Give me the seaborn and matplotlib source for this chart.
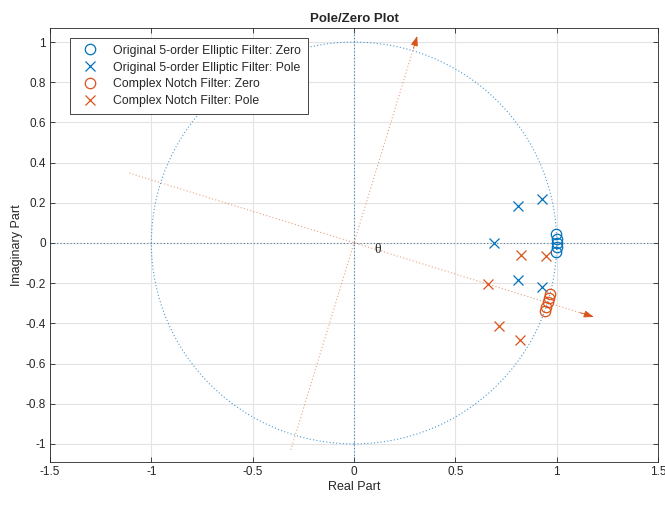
import numpy as np
import pandas as pd
import matplotlib
matplotlib.use("Agg")
import matplotlib.pyplot as plt
import seaborn as sns

# values
orig_zero_re = [0.999, 0.9998, 1.0, 0.9998, 0.999]
orig_zero_im = [0.045, 0.022, 0.0, -0.022, -0.045]
orig_pole_re = [0.807, 0.926, 0.693, 0.807, 0.926]
orig_pole_im = [0.184, 0.219, 0.0, -0.184, -0.219]
notch_zero_re = [0.968, 0.962, 0.955, 0.948, 0.941]
notch_zero_im = [-0.252, -0.273, -0.296, -0.317, -0.338]
notch_pole_re = [0.663, 0.823, 0.949, 0.717, 0.820]
notch_pole_im = [-0.204, -0.062, -0.065, -0.414, -0.483]

# rotation guide lines (start, end)
guide_a = [(-1.109, 0.348), (1.183, -0.368)]
guide_b = [(-0.312, -1.030), (0.312, 1.030)]

labels = ["Original 5-order Elliptic Filter: Zero",
          "Original 5-order Elliptic Filter: Pole",
          "Complex Notch Filter: Zero",
          "Complex Notch Filter: Pole"]
xticks = [-1.5, -1, -0.5, 0, 0.5, 1, 1.5]
yticks = [-1, -0.8, -0.6, -0.4, -0.2, 0, 0.2, 0.4, 0.6, 0.8, 1]

BLUE = "#0072BD"
ORANGE = "#D95319"

sns.set_theme(style="whitegrid", rc={
    "grid.color": "#e3e3e3", "grid.linewidth": 0.8,
    "axes.edgecolor": "#262626", "axes.linewidth": 0.6,
    "xtick.direction": "in", "ytick.direction": "in",
    "xtick.top": True, "ytick.right": True,
    "xtick.bottom": True, "ytick.left": True,
    "xtick.major.size": 3.5, "ytick.major.size": 3.5,
    "xtick.major.width": 0.6, "ytick.major.width": 0.6,
    "xtick.color": "#262626", "ytick.color": "#262626",
})
plt.rcParams["font.family"] = ["Liberation Sans", "DejaVu Sans"]

fig = plt.figure(figsize=(6.65, 5.12), dpi=100)
ax = fig.add_axes([0.0752, 0.0977, 0.9143, 0.8476])

dots = (0, (1, 2))

# unit circle and axes lines
ax.add_patch(plt.Circle((0, 0), 1, fill=False, ls=dots, lw=0.8, color=BLUE, alpha=0.7))
ax.axhline(0, ls=dots, lw=0.8, color="#3d5f80", alpha=0.8)
ax.axvline(0, ls=dots, lw=0.8, color=BLUE, alpha=0.8)

# rotation guides
for s, e in [guide_a, guide_b]:
    ax.plot([s[0], e[0]], [s[1], e[1]], ls=dots, lw=0.8, color=ORANGE, alpha=0.55)
    back = (s[0] + 0.97 * (e[0] - s[0]), s[1] + 0.97 * (e[1] - s[1]))
    ax.annotate("", xy=e, xytext=back,
                arrowprops=dict(arrowstyle="-|>,head_length=0.5,head_width=0.18",
                                color=ORANGE, lw=0.6, shrinkA=0, shrinkB=0))

ax.text(0.1, -0.03, "θ", family="Liberation Serif", fontsize=10, va="center", ha="left")

series = [
    (orig_zero_re, orig_zero_im, "o", BLUE, labels[0]),
    (orig_pole_re, orig_pole_im, "x", BLUE, labels[1]),
    (notch_zero_re, notch_zero_im, "o", ORANGE, labels[2]),
    (notch_pole_re, notch_pole_im, "x", ORANGE, labels[3]),
]
for re_, im_, mk, col, lab in series:
    df = pd.DataFrame({"re": re_, "im": im_})
    sns.lineplot(data=df, x="re", y="im", estimator=None, sort=False, ax=ax,
                 linestyle="", marker=mk, markersize=7.5 if mk == "o" else 7,
                 markerfacecolor="none", markeredgecolor=col,
                 markeredgewidth=0.9, color=col, label=lab)

ax.set_xlim(-1.5, 1.5)
ax.set_ylim(-1.09, 1.07)
ax.set_xticks(xticks)
ax.set_xticklabels([f"{v:g}" for v in xticks])
ax.set_yticks(yticks)
ax.set_yticklabels([f"{v:g}" for v in yticks])
ax.tick_params(labelsize=8.5, pad=3)
ax.set_xlabel("Real Part", fontsize=9, labelpad=2)
ax.set_ylabel("Imaginary Part", fontsize=9, labelpad=2)
ax.set_title("Pole/Zero Plot", fontsize=9.5, fontweight="bold", pad=4)
for sp in ax.spines.values():
    sp.set_visible(True)

leg = ax.legend(loc="upper left", bbox_to_anchor=(0.033, 0.977), fontsize=8.8,
                frameon=True, fancybox=False, edgecolor="#262626", framealpha=1,
                borderpad=0.55, labelspacing=0.4, handletextpad=0.8, handlelength=2.2,
                borderaxespad=0)
leg.get_frame().set_linewidth(0.6)

fig.savefig("out.png", dpi=100)
